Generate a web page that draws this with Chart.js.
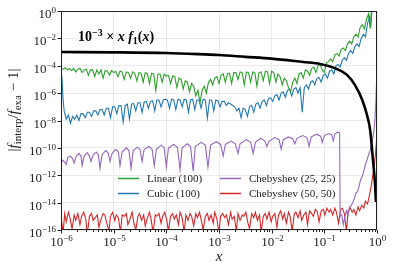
<!DOCTYPE html>
<html>
<head>
<meta charset="utf-8">
<script src="https://cdn.jsdelivr.net/npm/chart.js@4.4.0/dist/chart.umd.min.js"></script>
<style>
  html, body { margin: 0; padding: 0; background: #fff; }
</style>
</head>
<body>
<canvas id="errChart" width="393" height="270"></canvas>
<script>
// all points are [log10 x, log10 |f_interp/f_exa - 1|]
const linearPts = [
  [-6.00,-4.2],[-5.96,-4.25],[-5.92,-4.15],[-5.88,-4.3],[-5.84,-4.2],[-5.80,-4.35],[-5.76,-4.2],[-5.72,-4.45],
  [-5.68,-4.25],[-5.64,-4.2],[-5.60,-4.5],[-5.56,-4.3],[-5.52,-4.25],[-5.48,-4.7],[-5.44,-4.3],[-5.40,-4.3],
  [-5.36,-4.8],[-5.32,-4.3],[-5.28,-4.6],[-5.24,-4.3],[-5.20,-4.9],[-5.16,-4.35],[-5.12,-4.4],[-5.08,-4.7],
  [-5.04,-4.35],[-5.00,-4.5],[-4.96,-4.4],[-4.92,-4.8],[-4.88,-4.4],[-4.84,-4.45],[-4.80,-5.0],[-4.76,-4.45],
  [-4.72,-4.5],[-4.68,-4.9],[-4.64,-4.45],[-4.60,-4.55],[-4.56,-5.1],[-4.52,-4.5],[-4.48,-4.55],[-4.44,-5.2],
  [-4.40,-4.5],[-4.36,-4.6],[-4.32,-5.3],[-4.28,-4.55],[-4.24,-4.6],[-4.20,-5.8],[-4.16,-4.6],[-4.12,-4.6],
  [-4.08,-5.2],[-4.04,-4.6],[-4.00,-4.75],[-3.96,-4.7],[-3.92,-5.3],[-3.88,-4.75],[-3.84,-4.8],[-3.80,-5.6],
  [-3.76,-4.9],[-3.72,-5.0],[-3.68,-5.7],[-3.64,-5.1],[-3.60,-5.2],[-3.56,-5.9],[-3.52,-5.3],[-3.48,-5.5],
  [-3.44,-6.2],[-3.40,-5.8],[-3.36,-6.7],[-3.32,-5.8],[-3.28,-5.5],[-3.24,-6.0],[-3.20,-5.2],[-3.16,-5.0],
  [-3.12,-5.4],[-3.08,-4.9],[-3.04,-4.8],[-3.00,-5.3],[-2.96,-4.7],[-2.92,-4.6],[-2.88,-5.2],[-2.84,-4.6],
  [-2.80,-4.55],[-2.76,-5.3],[-2.72,-4.5],[-2.68,-4.5],[-2.64,-5.0],[-2.60,-4.45],[-2.56,-4.5],[-2.52,-5.4],
  [-2.48,-4.45],[-2.44,-4.5],[-2.40,-5.2],[-2.36,-4.45],[-2.32,-4.5],[-2.28,-5.5],[-2.24,-4.5],[-2.20,-4.45],
  [-2.16,-5.1],[-2.12,-4.4],[-2.08,-4.45],[-2.04,-5.3],[-2.00,-4.4],[-1.96,-4.5],[-1.92,-5.2],[-1.88,-4.6],
  [-1.84,-4.8],[-1.80,-5.4],[-1.76,-4.9],[-1.72,-5.1],[-1.68,-5.6],[-1.64,-5.9],[-1.60,-5.2],[-1.56,-4.9],
  [-1.52,-5.3],[-1.48,-4.6],[-1.44,-4.5],[-1.40,-4.9],[-1.36,-4.3],[-1.32,-4.4],[-1.28,-4.7],[-1.24,-4.2],
  [-1.20,-4.1],[-1.16,-4.5],[-1.12,-4.0],[-1.08,-3.9],[-1.04,-4.3],[-1.00,-4.5],[-0.96,-3.8],[-0.92,-3.7],
  [-0.88,-3.5],[-0.84,-3.7],[-0.80,-3.2],[-0.76,-3.1],[-0.72,-3.3],[-0.68,-2.8],[-0.64,-2.7],[-0.60,-2.9],
  [-0.56,-2.4],[-0.52,-2.2],[-0.48,-2.4],[-0.44,-1.9],[-0.40,-1.7],[-0.36,-1.9],[-0.32,-1.2],[-0.28,-1.0],
  [-0.24,-1.3],[-0.20,-0.6],[-0.16,-0.2],[-0.13,-1.3],[-0.10,0.3]
];

const cubicPts = [
  [-6.00,-4.2],[-5.98,-5.0],[-5.96,-6.5],[-5.94,-7.3],[-5.92,-7.6],[-5.90,-7.9],[-5.86,-7.6],[-5.82,-8.2],
  [-5.78,-7.7],[-5.74,-7.9],[-5.70,-7.6],[-5.66,-8.0],[-5.62,-7.5],[-5.58,-7.5],[-5.54,-7.8],[-5.50,-7.4],
  [-5.46,-7.4],[-5.42,-7.7],[-5.38,-7.3],[-5.34,-7.3],[-5.30,-7.6],[-5.26,-7.2],[-5.22,-7.2],[-5.18,-7.6],
  [-5.14,-7.1],[-5.10,-7.1],[-5.06,-7.8],[-5.02,-7.0],[-4.98,-7.0],[-4.94,-7.5],[-4.90,-6.9],[-4.86,-6.9],
  [-4.82,-8.1],[-4.78,-6.9],[-4.74,-6.8],[-4.70,-7.9],[-4.66,-6.8],[-4.62,-6.75],[-4.58,-7.3],[-4.54,-6.7],
  [-4.50,-6.7],[-4.46,-7.4],[-4.42,-6.65],[-4.38,-6.6],[-4.34,-7.1],[-4.30,-6.6],[-4.26,-6.55],[-4.22,-7.3],
  [-4.18,-6.5],[-4.14,-6.5],[-4.10,-7.0],[-4.06,-6.5],[-4.02,-6.45],[-3.98,-6.5],[-3.94,-7.1],[-3.90,-6.45],
  [-3.86,-6.5],[-3.82,-7.2],[-3.78,-6.45],[-3.74,-6.5],[-3.70,-7.0],[-3.66,-6.45],[-3.62,-6.5],[-3.58,-7.4],
  [-3.54,-6.5],[-3.50,-6.45],[-3.46,-7.2],[-3.42,-6.5],[-3.38,-6.5],[-3.34,-7.1],[-3.30,-6.45],[-3.26,-6.5],
  [-3.22,-7.8],[-3.18,-6.5],[-3.14,-6.5],[-3.10,-7.3],[-3.06,-6.5],[-3.02,-6.55],[-2.98,-7.0],[-2.94,-6.6],
  [-2.90,-6.6],[-2.86,-6.9],[-2.82,-6.7],[-2.78,-6.8],[-2.74,-6.9],[-2.70,-7.0],[-2.66,-7.3],[-2.62,-7.1],
  [-2.58,-7.8],[-2.54,-7.1],[-2.50,-7.2],[-2.46,-7.7],[-2.42,-7.0],[-2.38,-6.9],[-2.34,-7.4],[-2.30,-6.8],
  [-2.26,-6.7],[-2.22,-7.1],[-2.18,-6.6],[-2.14,-6.5],[-2.10,-6.9],[-2.06,-6.4],[-2.02,-6.35],[-1.98,-6.6],
  [-1.94,-6.2],[-1.90,-6.1],[-1.86,-6.5],[-1.82,-6.0],[-1.78,-5.9],[-1.74,-6.3],[-1.70,-5.8],[-1.66,-5.7],
  [-1.62,-6.2],[-1.58,-5.7],[-1.54,-5.6],[-1.50,-6.0],[-1.46,-5.6],[-1.42,-7.4],[-1.38,-5.6],[-1.34,-5.4],
  [-1.30,-5.7],[-1.26,-5.2],[-1.22,-5.1],[-1.18,-5.4],[-1.14,-4.9],[-1.10,-4.85],[-1.06,-5.2],[-1.02,-4.7],
  [-0.98,-4.6],[-0.94,-4.9],[-0.90,-4.4],[-0.86,-4.3],[-0.82,-4.6],[-0.78,-4.0],[-0.74,-3.9],[-0.70,-4.1],
  [-0.66,-3.6],[-0.62,-3.4],[-0.58,-3.6],[-0.54,-3.1],[-0.50,-2.9],[-0.46,-3.1],[-0.42,-2.6],[-0.38,-2.4],
  [-0.34,-2.6],[-0.30,-2.0],[-0.26,-1.7],[-0.22,-1.9],[-0.18,-0.9],[-0.14,-0.4],[-0.12,-1.2],[-0.09,0.3]
];

const cheb25Pts = [
  [-6.00,-11.1],[-5.97,-10.9],[-5.94,-11.0],[-5.90,-11.2],[-5.87,-10.7],[-5.82,-10.6],[-5.78,-10.8],[-5.75,-11.1],
  [-5.71,-10.6],[-5.66,-10.4],[-5.62,-10.6],[-5.60,-11.3],[-5.56,-10.6],[-5.50,-10.35],[-5.46,-10.6],[-5.43,-11.0],
  [-5.39,-10.5],[-5.33,-10.3],[-5.29,-10.5],[-5.26,-11.5],[-5.22,-10.5],[-5.15,-10.2],[-5.10,-10.4],[-5.07,-11.0],
  [-5.03,-10.4],[-4.96,-10.1],[-4.91,-10.3],[-4.88,-11.3],[-4.84,-10.3],[-4.76,-10.0],[-4.71,-10.2],[-4.67,-11.5],
  [-4.63,-10.2],[-4.55,-9.95],[-4.50,-10.1],[-4.46,-11.0],[-4.42,-10.1],[-4.33,-9.9],[-4.27,-10.1],[-4.23,-11.3],
  [-4.19,-10.1],[-4.10,-9.8],[-4.04,-10.0],[-4.00,-11.4],[-3.96,-10.0],[-3.86,-9.75],[-3.79,-9.95],[-3.74,-11.6],
  [-3.70,-10.0],[-3.60,-9.7],[-3.54,-9.9],[-3.49,-11.7],[-3.45,-9.9],[-3.34,-9.6],[-3.26,-9.8],[-3.21,-11.4],
  [-3.16,-9.8],[-3.05,-9.55],[-2.97,-9.75],[-2.92,-10.6],[-2.88,-9.75],[-2.77,-9.5],[-2.69,-9.7],[-2.64,-10.4],
  [-2.60,-9.7],[-2.48,-9.4],[-2.40,-9.6],[-2.35,-10.4],[-2.31,-9.6],[-2.21,-9.3],[-2.13,-9.5],[-2.09,-9.9],
  [-2.05,-9.5],[-1.94,-9.25],[-1.86,-9.4],[-1.82,-10.1],[-1.78,-9.4],[-1.68,-9.2],[-1.60,-9.35],[-1.56,-9.7],
  [-1.52,-9.3],[-1.41,-9.1],[-1.33,-9.25],[-1.29,-9.9],[-1.25,-9.2],[-1.15,-9.0],[-1.07,-9.15],[-1.04,-9.6],
  [-1.00,-9.1],[-0.92,-8.95],[-0.86,-9.05],[-0.83,-9.5],[-0.80,-9.0],[-0.75,-8.85],[-0.71,-8.9],[-0.70,-15.0],
  [-0.67,-14.9],[-0.64,-15.6],[-0.61,-15.0],[-0.58,-14.6],[-0.55,-14.9],[-0.52,-14.3],[-0.49,-14.2],[-0.46,-14.0],
  [-0.43,-13.7],[-0.40,-13.3],[-0.37,-13.2],[-0.34,-12.8],[-0.31,-12.3],[-0.28,-12.1],[-0.25,-11.7],[-0.22,-11.2],
  [-0.19,-10.9],[-0.16,-10.5],[-0.13,-10.2],[-0.10,-9.6],[-0.08,-9.3],[-0.06,-8.8],[-0.04,-8.0],[-0.02,-6.5],
  [-0.005,-4.7]
];

const cheb50X = [
  -6.00,-5.96,-5.93,-5.90,-5.86,-5.83,-5.79,-5.75,-5.72,-5.68,
  -5.64,-5.61,-5.57,-5.53,-5.50,-5.46,-5.42,-5.39,-5.35,-5.31,
  -5.28,-5.24,-5.20,-5.17,-5.13,-5.09,-5.06,-5.02,-4.98,-4.95,
  -4.91,-4.87,-4.84,-4.80,-4.76,-4.73,-4.69,-4.65,-4.62,-4.58,
  -4.54,-4.51,-4.47,-4.43,-4.40,-4.36,-4.32,-4.29,-4.25,-4.21,
  -4.18,-4.14,-4.10,-4.07,-4.03,-3.99,-3.96,-3.92,-3.88,-3.85,
  -3.81,-3.77,-3.74,-3.70,-3.66,-3.63,-3.59,-3.55,-3.52,-3.48,
  -3.44,-3.41,-3.37,-3.33,-3.30,-3.26,-3.22,-3.19,-3.15,-3.11,
  -3.08,-3.04,-3.00,-2.97,-2.93,-2.89,-2.86,-2.82,-2.78,-2.75,
  -2.71,-2.67,-2.64,-2.60,-2.56,-2.53,-2.49,-2.45,-2.42,-2.38,
  -2.34,-2.31,-2.27,-2.23,-2.20,-2.16,-2.12,-2.09,-2.05,-2.01,
  -1.98,-1.94,-1.90,-1.87,-1.83,-1.79,-1.76,-1.72,-1.68,-1.65,
  -1.61,-1.57,-1.54,-1.50,-1.46,-1.43,-1.39,-1.35,-1.32,-1.28,
  -1.24,-1.21,-1.17,-1.13,-1.10,-1.06,-1.02,-0.99,-0.95,-0.91,
  -0.88,-0.84,-0.80,-0.77,-0.73,-0.69,-0.66,-0.62,-0.58,-0.55,
  -0.51,-0.47,-0.44,-0.40,-0.36,-0.33,-0.29,-0.25,-0.22,-0.18,
  -0.14,-0.11,-0.08,-0.05,-0.03,-0.01,0
];
const cheb50Y = [
  -15.0,-16.2,-14.8,-15.4,-14.7,-15.1,-15.9,-14.9,-15.3,-14.8,
  -15.6,-15.0,-14.7,-15.2,-16.3,-15.0,-14.8,-15.3,-15.1,-14.9,
  -15.8,-15.2,-14.8,-14.9,-15.5,-16.1,-15.0,-14.7,-15.3,-14.9,
  -15.1,-16.2,-14.9,-15.0,-14.8,-15.6,-15.2,-14.7,-15.4,-16.0,
  -15.0,-14.8,-15.3,-14.9,-15.7,-15.1,-14.7,-15.2,-16.2,-14.9,
  -15.0,-14.8,-15.5,-15.0,-14.7,-15.3,-16.1,-15.0,-14.8,-15.2,
  -14.9,-15.6,-14.7,-15.1,-16.2,-14.9,-15.3,-14.8,-15.0,-15.7,
  -14.8,-15.1,-14.7,-15.4,-16.0,-15.0,-14.8,-15.3,-14.9,-15.5,
  -14.7,-15.2,-16.2,-15.0,-14.8,-15.1,-14.9,-15.6,-14.7,-15.2,
  -15.0,-16.1,-14.8,-15.3,-14.9,-15.0,-14.7,-15.5,-15.9,-14.8,
  -15.1,-14.7,-15.3,-14.9,-16.2,-15.0,-14.8,-15.2,-14.7,-15.4,
  -15.0,-14.8,-15.8,-14.9,-14.6,-15.2,-14.8,-15.5,-14.7,-15.0,
  -16.1,-14.8,-14.7,-15.1,-14.6,-15.3,-14.9,-14.7,-15.6,-14.6,
  -14.8,-15.0,-14.5,-14.7,-15.4,-14.6,-14.5,-14.9,-14.4,-14.7,
  -14.5,-14.9,-14.4,-14.7,-15.5,-14.5,-14.4,-14.8,-16.1,-14.6,
  -14.4,-14.7,-14.5,-14.9,-14.3,-14.6,-14.2,-14.4,-13.9,-14.1,
  -13.4,-12.8,-12.0,-11.2,-10.5,-9.5,-8.2
];

// reference curve 1e-3 * x f1(x)
const refPts = [
  [-6.0,-3.0],[-5.0,-3.02],[-4.0,-3.07],[-3.4,-3.15],[-3.0,-3.22],[-2.5,-3.35],[-2.0,-3.48],[-1.4,-3.73],
  [-1.08,-3.87],[-0.76,-4.24],[-0.57,-4.67],[-0.42,-5.4],[-0.28,-6.5],[-0.19,-7.6],[-0.13,-8.7],
  [-0.076,-10.9],[-0.04,-12.5],[-0.02,-13.95]
];

const xTickExp = [-6, -5, -4, -3, -2, -1, 0];
const yTickExp = [-16, -14, -12, -10, -8, -6, -4, -2, 0];

const seriesLabels = ['Linear (100)', 'Cubic (100)', 'Chebyshev (25, 25)', 'Chebyshev (50, 50)'];
const seriesColors = ['#2ca02c', '#1f77b4', '#9467bd', '#d62728'];

const toPts = arr => arr.map(p => ({ x: Math.pow(10, p[0]), y: Math.pow(10, p[1]) }));
const cheb50Pts = cheb50X.map((e, i) => [e, cheb50Y[i]]);

const serif = '"Liberation Serif", "DejaVu Serif", serif';

function drawRuns(ctx, runs, x, y, align) {
  let w = 0;
  runs.forEach(r => { ctx.font = r.font; r.w = ctx.measureText(r.t).width; w += r.w; });
  let cx = align === 'right' ? x - w : align === 'center' ? x - w / 2 : x;
  runs.forEach(r => {
    ctx.font = r.font;
    ctx.fillText(r.t, cx, y + (r.dy || 0));
    cx += r.w;
  });
}

function powRuns(e) {
  const s = e < 0 ? '\u2212' + Math.abs(e) : String(e);
  return [
    { t: '10', font: '13px ' + serif },
    { t: s, font: '9px ' + serif, dy: -5 }
  ];
}

const decorations = {
  id: 'decorations',
  afterDraw(chart) {
    const { ctx, chartArea: a, scales } = chart;
    const xs = scales.x, ys = scales.y;
    ctx.save();
    ctx.fillStyle = '#222';
    ctx.strokeStyle = '#222';
    ctx.lineWidth = 1;
    ctx.textBaseline = 'alphabetic';

    // frame
    ctx.strokeRect(Math.round(a.left) + 0.5, Math.round(a.top) + 0.5,
      Math.round(a.right - a.left) - 1, Math.round(a.bottom - a.top) - 1);

    // y ticks + labels
    yTickExp.forEach(e => {
      const py = Math.round(ys.getPixelForValue(Math.pow(10, e))) + 0.5;
      ctx.beginPath(); ctx.moveTo(a.left - 3.5, py); ctx.lineTo(a.left, py); ctx.stroke();
      drawRuns(ctx, powRuns(e), a.left - 5, py + 6, 'right');
    });

    // x ticks, minor ticks + labels
    xTickExp.forEach(e => {
      const px = Math.round(xs.getPixelForValue(Math.pow(10, e))) + 0.5;
      ctx.beginPath(); ctx.moveTo(px, a.bottom); ctx.lineTo(px, a.bottom + 3.5); ctx.stroke();
      drawRuns(ctx, powRuns(e), px, a.bottom + 16, 'center');
      if (e < 0) {
        for (let k = 2; k <= 9; k++) {
          const mx = Math.round(xs.getPixelForValue(k * Math.pow(10, e))) + 0.5;
          ctx.beginPath(); ctx.moveTo(mx, a.bottom); ctx.lineTo(mx, a.bottom + 2); ctx.stroke();
        }
      }
    });

    // axis titles
    drawRuns(ctx, [{ t: 'x', font: 'italic 15px ' + serif }], (a.left + a.right) / 2, 261, 'center');

    ctx.save();
    ctx.translate(18, 110);
    ctx.rotate(-Math.PI / 2);
    drawRuns(ctx, [
      { t: '|', font: '15px ' + serif },
      { t: 'f', font: 'italic 15px ' + serif },
      { t: 'interp', font: '11px ' + serif, dy: 3 },
      { t: '/', font: '15px ' + serif },
      { t: 'f', font: 'italic 15px ' + serif },
      { t: 'exa', font: '11px ' + serif, dy: 3 },
      { t: ' \u2212 1|', font: '15px ' + serif }
    ], 0, 0, 'center');
    ctx.restore();

    // annotation
    ctx.fillStyle = '#000';
    drawRuns(ctx, [
      { t: '10', font: 'bold 14px ' + serif },
      { t: '\u22123', font: 'bold 10px ' + serif, dy: -5 },
      { t: ' \u00d7 ', font: 'bold 14px ' + serif },
      { t: 'x f', font: 'italic bold 14px ' + serif },
      { t: '1', font: 'bold 10px ' + serif, dy: 3 },
      { t: '(', font: 'bold 14px ' + serif },
      { t: 'x', font: 'italic bold 14px ' + serif },
      { t: ')', font: 'bold 14px ' + serif }
    ], 78, 41, 'left');

    // legend, two columns inside the axes
    const cols = [118, 220];
    const rows = [178, 193];
    seriesLabels.forEach((lab, i) => {
      const lx = cols[Math.floor(i / 2)], ly = rows[i % 2];
      ctx.strokeStyle = seriesColors[i];
      ctx.lineWidth = 1.5;
      ctx.beginPath(); ctx.moveTo(lx, ly + 0.5); ctx.lineTo(lx + 21, ly + 0.5); ctx.stroke();
      ctx.fillStyle = '#222';
      drawRuns(ctx, [{ t: lab, font: '11px ' + serif }], lx + 29, ly + 4, 'left');
    });
    ctx.restore();
  }
};

const mkSet = (label, pts, color, width, order) => ({
  label, data: toPts(pts), borderColor: color, backgroundColor: color,
  borderWidth: width, pointRadius: 0, tension: 0, order
});

const refSet = mkSet('10^-3 x f1(x)', refPts, '#000', 2.6, 0);
refSet.cubicInterpolationMode = 'monotone';

new Chart(document.getElementById('errChart'), {
  type: 'line',
  data: {
    datasets: [
      refSet,
      mkSet(seriesLabels[0], linearPts, seriesColors[0], 1.1, 1),
      mkSet(seriesLabels[1], cubicPts, seriesColors[1], 1.1, 2),
      mkSet(seriesLabels[2], cheb25Pts, seriesColors[2], 1.1, 3),
      mkSet(seriesLabels[3], cheb50Pts, seriesColors[3], 1.1, 4)
    ]
  },
  options: {
    responsive: false,
    animation: false,
    layout: { padding: { left: 61, top: 11, right: 16, bottom: 40 } },
    plugins: { legend: { display: false }, tooltip: { enabled: false } },
    scales: {
      x: {
        type: 'logarithmic', min: 1e-6, max: 1,
        afterBuildTicks: s => { s.ticks = xTickExp.map(e => ({ value: Math.pow(10, e) })); },
        afterFit: s => { s.height = 0; },
        ticks: { display: false },
        grid: { color: '#ebebeb', drawTicks: false },
        border: { display: false }
      },
      y: {
        type: 'logarithmic', min: 1e-16, max: 1,
        afterBuildTicks: s => { s.ticks = yTickExp.map(e => ({ value: Math.pow(10, e) })); },
        afterFit: s => { s.width = 0; },
        ticks: { display: false },
        grid: { color: '#ebebeb', drawTicks: false },
        border: { display: false }
      }
    }
  },
  plugins: [decorations]
});
</script>
</body>
</html>
